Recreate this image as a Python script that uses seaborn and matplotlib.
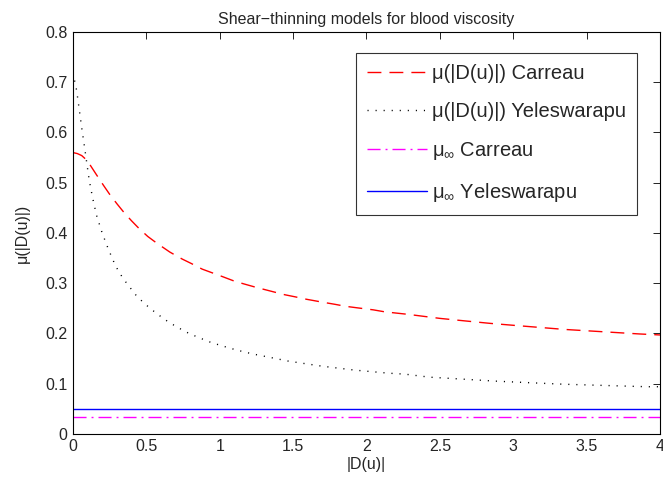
import numpy as np
import pandas as pd
import matplotlib
matplotlib.use("Agg")
import matplotlib.pyplot as plt
import seaborn as sns

# Shear rate |D(u)| values and viscosities
carreau_x = [0.0, 0.03, 0.06, 0.09, 0.12, 0.16, 0.21, 0.25, 0.30, 0.35, 0.40, 0.45, 0.51,
             0.57, 0.62, 0.66, 0.745, 0.808, 0.881, 1.02, 1.092, 1.16, 1.245, 1.364, 1.444,
             1.512, 1.592, 1.705, 1.785, 1.858, 1.937, 2.046, 2.125, 2.284, 2.364, 2.5,
             2.67, 2.845, 3.01, 3.18, 3.35, 3.52, 3.69, 3.86, 4.0]
carreau_mu = [0.560, 0.558, 0.554, 0.546, 0.534, 0.516, 0.494, 0.477, 0.458, 0.440, 0.424,
              0.409, 0.393, 0.380, 0.370, 0.362, 0.348, 0.339, 0.328, 0.313, 0.305, 0.299,
              0.292, 0.283, 0.277, 0.273, 0.268, 0.262, 0.258, 0.254, 0.251, 0.247, 0.243,
              0.238, 0.235, 0.230, 0.225, 0.220, 0.216, 0.212, 0.208, 0.205, 0.202, 0.199,
              0.197]

yeles_x = [0.0, 0.025, 0.043, 0.059, 0.077, 0.094, 0.111, 0.134, 0.161, 0.198, 0.241,
           0.291, 0.332, 0.366, 0.438, 0.525, 0.615, 0.661, 0.763, 0.815, 0.865, 0.922,
           1.008, 1.115, 1.228, 1.349, 1.467, 1.58, 1.694, 1.807, 1.921, 2.035, 2.148,
           2.262, 2.43, 2.66, 2.886, 3.11, 3.34, 3.567, 3.79, 3.91, 4.0]
yeles_mu = [0.719, 0.684, 0.646, 0.611, 0.575, 0.540, 0.505, 0.470, 0.435, 0.401, 0.368,
            0.334, 0.314, 0.300, 0.273, 0.250, 0.230, 0.221, 0.204, 0.197, 0.191, 0.184,
            0.176, 0.167, 0.159, 0.152, 0.145, 0.140, 0.135, 0.131, 0.127, 0.124, 0.121,
            0.119, 0.113, 0.109, 0.105, 0.102, 0.099, 0.097, 0.095, 0.094, 0.094]

x_limits = [0.0, 4.0]
mu_inf_carreau = 0.0345
mu_inf_yeles = 0.049

labels = ["μ(|D(u)|) Carreau", "μ(|D(u)|) Yeleswarapu",
          r"μ$_\infty$ Carreau", r"μ$_\infty$ Yeleswarapu"]
title = "Shear\u2212thinning models for blood viscosity"
xlabel = "|D(u)|"
ylabel = "μ(|D(u)|)"

sns.set_style("white")
plt.rcParams["font.family"] = ["Liberation Sans", "DejaVu Sans"]
plt.rcParams["mathtext.fontset"] = "custom"
plt.rcParams["mathtext.rm"] = "Liberation Sans"
plt.rcParams["mathtext.it"] = "Liberation Sans"
plt.rcParams["mathtext.bf"] = "Liberation Sans"
plt.rcParams["axes.unicode_minus"] = True

fig = plt.figure(figsize=(6.63, 4.92), dpi=100)
ax = fig.add_axes([0.110, 0.118, 0.8855, 0.817])

df_c = pd.DataFrame({"x": carreau_x, "mu": carreau_mu})
df_y = pd.DataFrame({"x": yeles_x, "mu": yeles_mu})
df_ic = pd.DataFrame({"x": x_limits, "mu": [mu_inf_carreau] * 2})
df_iy = pd.DataFrame({"x": x_limits, "mu": [mu_inf_yeles] * 2})

colors = ["#ff0000", "#000000", "#ff00ff", "#0000ff"]
lw = 1.0
for df, lab, col in zip([df_c, df_y, df_ic, df_iy], labels, colors):
    sns.lineplot(data=df, x="x", y="mu", ax=ax, color=col, lw=lw, label=lab,
                 estimator=None, sort=False)

dash_styles = [(10, 5.8), (0.8, 5.0), (9.4, 3.6, 1.4, 3.6), None]
lines = ax.get_lines()
for ln, col, ds in zip(lines, colors, dash_styles):
    ln.set_color(col)
    if ds is not None:
        ln.set_dashes(ds)

ax.set_xlim(0, 4)
ax.set_ylim(0, 0.8)
ax.set_xticks(np.arange(0, 4.01, 0.5))
ax.set_xticklabels(["0", "0.5", "1", "1.5", "2", "2.5", "3", "3.5", "4"])
ax.set_yticks(np.arange(0, 0.81, 0.1))
ax.set_yticklabels(["0", "0.1", "0.2", "0.3", "0.4", "0.5", "0.6", "0.7", "0.8"])
ax.tick_params(direction="in", length=5, width=0.6, top=True, right=True,
               labelsize=11.5, color="black", pad=4)
for s in ax.spines.values():
    s.set_visible(True)
    s.set_color("black")
    s.set_linewidth(0.8)

ax.set_title(title, fontsize=11.5, pad=6)
ax.set_xlabel(xlabel, fontsize=11.5, labelpad=2)
ax.set_ylabel(ylabel, fontsize=11.5, labelpad=11)

leg = ax.legend(loc="upper right", bbox_to_anchor=(0.961, 0.948), fontsize=14.5,
                frameon=True, fancybox=False, edgecolor="black", handlelength=3.0,
                handletextpad=0.25, labelspacing=0.95, borderpad=0.55, borderaxespad=0)
leg.get_frame().set_linewidth(0.8)
for ln, col, ds in zip(leg.get_lines(), colors, dash_styles):
    ln.set_color(col)
    if ds is not None:
        ln.set_dashes(ds)

fig.savefig("out.png", dpi=100, facecolor="white")
